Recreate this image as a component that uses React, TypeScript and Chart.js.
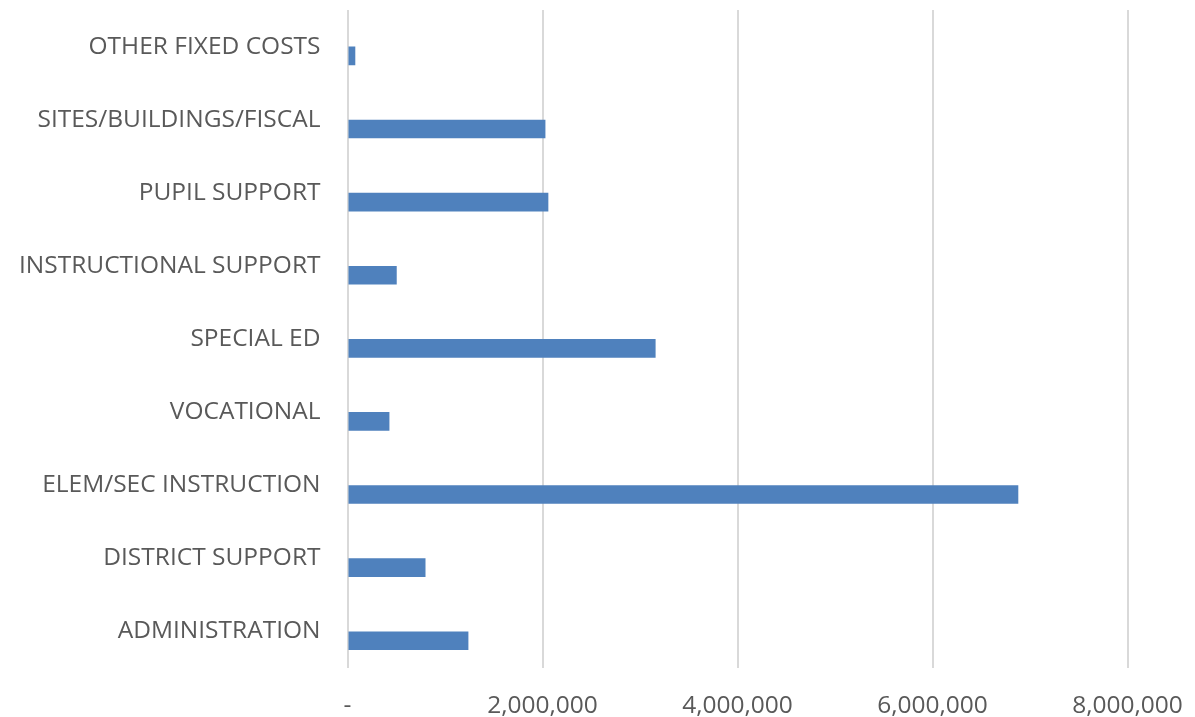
import React, { useEffect, useRef } from "react";
import { Chart, registerables } from "chart.js";

Chart.register(...registerables);

const categories = [
  "OTHER FIXED COSTS",
  "SITES/BUILDINGS/FISCAL",
  "PUPIL SUPPORT",
  "INSTRUCTIONAL SUPPORT",
  "SPECIAL ED",
  "VOCATIONAL",
  "ELEM/SEC INSTRUCTION",
  "DISTRICT SUPPORT",
  "ADMINISTRATION",
];

const expenditures = [80000, 2030000, 2060000, 505000, 3160000, 430000, 6880000, 800000, 1240000];

const spacerSeries = [null, null, null, null, null, null, null, null, null];

const xTickValues = [0, 2000000, 4000000, 6000000, 8000000];
const xTickLabels = ["-", "2,000,000", "4,000,000", "6,000,000", "8,000,000"];

const W = 1195;
const H = 717;
const FONT = "'Open Sans', 'Liberation Sans', sans-serif";

export default function App() {
  const ref = useRef<HTMLCanvasElement | null>(null);

  useEffect(() => {
    document.body.style.margin = "0";
    const canvas = ref.current;
    if (!canvas) return;
    const chart = new Chart(canvas, {
      type: "bar",
      data: {
        labels: categories,
        datasets: [
          {
            label: "spacer",
            data: spacerSeries as any,
            backgroundColor: "rgba(0,0,0,0)",
          },
          {
            label: "Expenditure",
            data: expenditures,
            backgroundColor: "#4F81BD",
            borderWidth: 0,
          },
        ],
      },
      options: {
        indexAxis: "y",
        responsive: false,
        animation: false,
        maintainAspectRatio: false,
        datasets: {
          bar: {
            categoryPercentage: 0.51,
            barPercentage: 1.0,
          },
        },
        layout: {
          padding: { top: 10, right: 67.5, bottom: 0, left: 0 },
        },
        plugins: {
          legend: { display: false },
          tooltip: { enabled: false },
          title: { display: false },
        },
        scales: {
          x: {
            type: "linear",
            min: xTickValues[0],
            max: xTickValues[xTickValues.length - 1],
            afterBuildTicks: (axis: any) => {
              axis.ticks = xTickValues.map((v) => ({ value: v }));
            },
            afterFit: (axis: any) => {
              axis.height = 49;
              axis.paddingLeft = 0;
              axis.paddingRight = 0;
            },
            grid: {
              display: true,
              color: "#D9D9D9",
              lineWidth: 2,
              drawTicks: false,
            },
            border: { display: false },
            ticks: {
              padding: 23,
              color: "#595959",
              font: { family: FONT, size: 24.5 },
              maxRotation: 0,
              callback: (value: any) => {
                const i = xTickValues.indexOf(Number(value));
                return i >= 0 ? xTickLabels[i] : "";
              },
            },
          },
          y: {
            type: "category",
            afterFit: (axis: any) => {
              axis.width = 347.5;
              axis.paddingTop = 0;
              axis.paddingBottom = 0;
            },
            grid: { display: false, drawTicks: false },
            border: { display: false },
            ticks: {
              padding: 27,
              color: "#595959",
              font: { family: FONT, size: 24.5 },
            },
          },
        },
      },
    });
    return () => chart.destroy();
  }, []);

  return (
    <div style={{ position: "fixed", left: 0, top: 0, width: W, height: H, background: "#fff" }}>
      <canvas ref={ref} width={W} height={H} style={{ width: W, height: H, display: "block" }} />
    </div>
  );
}
